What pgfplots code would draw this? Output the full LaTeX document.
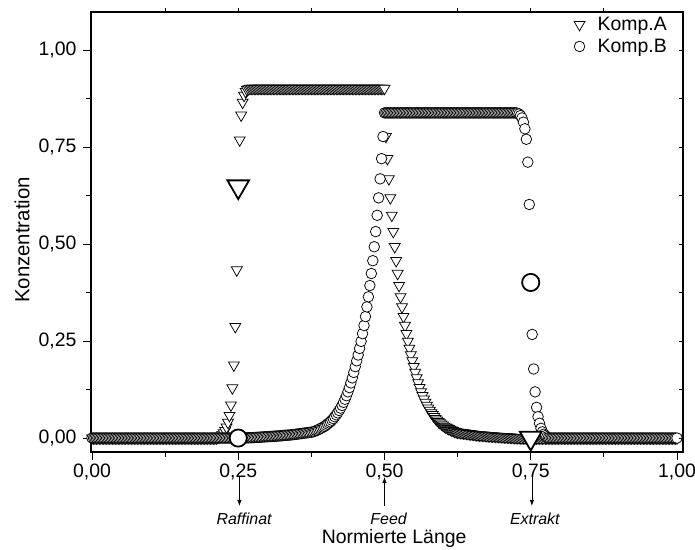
\documentclass[border=0pt]{standalone}
\usepackage{fontspec}
\setmainfont{Liberation Sans}
\usepackage{pgfplots}
\pgfplotsset{compat=1.18}
\usetikzlibrary{arrows.meta}
\begin{document}
\begin{tikzpicture}
\begin{axis}[
  name=main,
  scale only axis, width=592bp, height=440bp,
  xmin=-0.0017, xmax=1.0103, ymin=-0.036, ymax=1.098,
  clip mode=individual,
  axis line style={line width=1.1bp},
  xtick={0,0.25,0.5,0.75,1}, minor xtick={0.125,0.375,0.625,0.875},
  ytick={0,0.25,0.5,0.75,1}, minor ytick={0.125,0.375,0.625,0.875},
  xtick pos=left, ytick pos=left,
  tick align=outside,
  major tick length=8bp, minor tick length=4.5bp,
  every tick/.style={black, line width=0.9bp},
  tick label style={font=\fontsize{19.5}{22}\selectfont},
  xticklabel style={/pgf/number format/.cd, fixed, fixed zerofill, precision=2, use comma, assume math mode=true},
  yticklabel style={xshift=-3bp, /pgf/number format/.cd, fixed, fixed zerofill, precision=2, use comma, assume math mode=true},
  legend style={draw=none, fill=none, at={(1,1)}, anchor=north east, xshift=-11bp, yshift=-1bp, row sep=3bp, font=\fontsize{19.5}{23}\selectfont},
  legend cell align=left,
  legend image code/.code={\path (0bp,0bp) (24bp,0bp); \draw[#1] plot coordinates {(8bp,0bp)};},
]
% Komp.A
\addplot[only marks, mark=triangle*, mark size=6.3bp, mark options={rotate=180, fill=white, draw=black, line width=0.75bp}] coordinates {
(0,0) (0.0025,0) (0.005,0) (0.0075,0) (0.01,0) (0.0125,0) (0.015,0) (0.0175,0) (0.02,0) (0.0225,0) (0.025,0) (0.0275,0) (0.03,0) (0.0325,0) (0.035,0) (0.0375,0) (0.04,0) (0.0425,0) (0.045,0) (0.0475,0) (0.05,0) (0.0525,0) (0.055,0) (0.0575,0) (0.06,0) (0.0625,0) (0.065,0) (0.0675,0) (0.07,0) (0.0725,0) (0.075,0) (0.0775,0) (0.08,0) (0.0825,0) (0.085,0) (0.0875,0) (0.09,0) (0.0925,0) (0.095,0) (0.0975,0) (0.1,0) (0.1025,0) (0.105,0) (0.1075,0) (0.11,0) (0.1125,0) (0.115,0) (0.1175,0) (0.12,0) (0.1225,0) (0.125,0) (0.1275,0) (0.13,0) (0.1325,0) (0.135,0) (0.1375,0) (0.14,0) (0.1425,0) (0.145,0) (0.1475,0) (0.15,0) (0.1525,0) (0.155,0) (0.1575,0) (0.16,0) (0.1625,0) (0.165,0) (0.1675,0) (0.17,0) (0.1725,0) (0.175,0) (0.1775,0) (0.18,0) (0.1825,0) (0.185,0) (0.1875,0) (0.19,0) (0.1925,0) (0.195,0) (0.1975,0) (0.2,0) (0.2025,0) (0.205,0) (0.2075,0) (0.21,0)
(0.2125,0) (0.215,0.001) (0.2175,0.003) (0.22,0.005) (0.2225,0.008) (0.225,0.013) (0.2275,0.019) (0.23,0.028) (0.2325,0.040) (0.235,0.058) (0.2375,0.085) (0.24,0.129) (0.2425,0.188) (0.245,0.287) (0.2475,0.433) (0.25,0.648) (0.2525,0.768) (0.255,0.832) (0.2575,0.865) (0.26,0.883) (0.2625,0.893) (0.265,0.898) (0.2675,0.900)
(0.27,0.901) (0.2725,0.901) (0.275,0.901) (0.2775,0.901) (0.28,0.901) (0.2825,0.901) (0.285,0.901) (0.2875,0.901) (0.29,0.901) (0.2925,0.901) (0.295,0.901) (0.2975,0.901) (0.3,0.901) (0.3025,0.901) (0.305,0.901) (0.3075,0.901) (0.31,0.901) (0.3125,0.901) (0.315,0.901) (0.3175,0.901) (0.32,0.901) (0.3225,0.901) (0.325,0.901) (0.3275,0.901) (0.33,0.901) (0.3325,0.901) (0.335,0.901) (0.3375,0.901) (0.34,0.901) (0.3425,0.901) (0.345,0.901) (0.3475,0.901) (0.35,0.901) (0.3525,0.901) (0.355,0.901) (0.3575,0.901) (0.36,0.901) (0.3625,0.901) (0.365,0.901) (0.3675,0.901) (0.37,0.901) (0.3725,0.901) (0.375,0.901) (0.3775,0.901) (0.38,0.901) (0.3825,0.901) (0.385,0.901) (0.3875,0.901) (0.39,0.901) (0.3925,0.901) (0.395,0.901) (0.3975,0.901) (0.4,0.901) (0.4025,0.901) (0.405,0.901) (0.4075,0.901) (0.41,0.901) (0.4125,0.901) (0.415,0.901) (0.4175,0.901) (0.42,0.901) (0.4225,0.901) (0.425,0.901) (0.4275,0.901) (0.43,0.901) (0.4325,0.901) (0.435,0.901) (0.4375,0.901) (0.44,0.901) (0.4425,0.901) (0.445,0.901) (0.4475,0.901) (0.45,0.901) (0.4525,0.901) (0.455,0.901) (0.4575,0.901) (0.46,0.901) (0.4625,0.901) (0.465,0.901) (0.4675,0.901) (0.47,0.901) (0.4725,0.901) (0.475,0.901) (0.4775,0.901) (0.48,0.901) (0.4825,0.901) (0.485,0.901) (0.4875,0.901) (0.49,0.901) (0.4925,0.901) (0.495,0.901) (0.4975,0.901) (0.5,0.901)
(0.5025,0.777) (0.505,0.720) (0.5075,0.668) (0.51,0.619) (0.5125,0.574) (0.515,0.532) (0.5175,0.493) (0.52,0.457) (0.5225,0.424) (0.525,0.393) (0.5275,0.364) (0.53,0.338) (0.5325,0.313) (0.535,0.290) (0.5375,0.269) (0.54,0.249) (0.5425,0.231) (0.545,0.214) (0.5475,0.199) (0.55,0.184) (0.5525,0.169) (0.555,0.155) (0.5575,0.142) (0.56,0.130) (0.5625,0.119) (0.565,0.109) (0.5675,0.100) (0.57,0.092) (0.5725,0.084) (0.575,0.077) (0.5775,0.071) (0.58,0.065) (0.5825,0.060) (0.585,0.055) (0.5875,0.050) (0.59,0.046) (0.5925,0.042) (0.595,0.039) (0.5975,0.036) (0.6,0.033) (0.6025,0.030) (0.605,0.028) (0.6075,0.026) (0.61,0.024) (0.6125,0.022) (0.615,0.020) (0.6175,0.019) (0.62,0.017) (0.6225,0.016) (0.625,0.015)
(0.6275,0.0145) (0.63,0.014) (0.6325,0.0135) (0.635,0.013) (0.6375,0.0125) (0.64,0.012) (0.6425,0.0115) (0.645,0.011) (0.6475,0.0105) (0.65,0.010) (0.6525,0.0095) (0.655,0.009) (0.6575,0.0085) (0.66,0.008) (0.6625,0.0078) (0.665,0.0075) (0.6675,0.0072) (0.67,0.007) (0.6725,0.0065) (0.675,0.006) (0.6775,0.0058) (0.68,0.0055) (0.6825,0.0052) (0.685,0.005) (0.6875,0.0048) (0.69,0.0045) (0.6925,0.0042) (0.695,0.004) (0.6975,0.0038) (0.7,0.0035) (0.7025,0.0032) (0.705,0.003) (0.7075,0.0028) (0.71,0.0025) (0.7125,0.0022) (0.715,0.002) (0.7175,0.0018) (0.72,0.0015) (0.7225,0.0012) (0.725,0.001) (0.7275,0.0009) (0.73,0.0008) (0.7325,0.0006) (0.735,0.0005) (0.7375,0.0004) (0.74,0.0003) (0.7425,0.0002) (0.745,0.0001) (0.7475,0)
(0.75,0) (0.7525,0) (0.755,0) (0.7575,0) (0.76,0) (0.7625,0) (0.765,0) (0.7675,0) (0.77,0) (0.7725,0) (0.775,0) (0.7775,0) (0.78,0) (0.7825,0) (0.785,0) (0.7875,0) (0.79,0) (0.7925,0) (0.795,0) (0.7975,0) (0.8,0) (0.8025,0) (0.805,0) (0.8075,0) (0.81,0) (0.8125,0) (0.815,0) (0.8175,0) (0.82,0) (0.8225,0) (0.825,0) (0.8275,0) (0.83,0) (0.8325,0) (0.835,0) (0.8375,0) (0.84,0) (0.8425,0) (0.845,0) (0.8475,0) (0.85,0) (0.8525,0) (0.855,0) (0.8575,0) (0.86,0) (0.8625,0) (0.865,0) (0.8675,0) (0.87,0) (0.8725,0) (0.875,0) (0.8775,0) (0.88,0) (0.8825,0) (0.885,0) (0.8875,0) (0.89,0) (0.8925,0) (0.895,0) (0.8975,0) (0.9,0) (0.9025,0) (0.905,0) (0.9075,0) (0.91,0) (0.9125,0) (0.915,0) (0.9175,0) (0.92,0) (0.9225,0) (0.925,0) (0.9275,0) (0.93,0) (0.9325,0) (0.935,0) (0.9375,0) (0.94,0) (0.9425,0) (0.945,0) (0.9475,0) (0.95,0) (0.9525,0) (0.955,0) (0.9575,0) (0.96,0) (0.9625,0) (0.965,0) (0.9675,0) (0.97,0) (0.9725,0) (0.975,0) (0.9775,0) (0.98,0) (0.9825,0) (0.985,0) (0.9875,0) (0.99,0) (0.9925,0) (0.995,0) (0.9975,0) (1,0)
};
\addlegendentry{Komp.A}
% Komp.B
\addplot[only marks, mark=*, mark size=5.3bp, mark options={fill=white, draw=black, line width=0.75bp}] coordinates {
(0,0) (0.0025,0) (0.005,0) (0.0075,0) (0.01,0) (0.0125,0) (0.015,0) (0.0175,0) (0.02,0) (0.0225,0) (0.025,0) (0.0275,0) (0.03,0) (0.0325,0) (0.035,0) (0.0375,0) (0.04,0) (0.0425,0) (0.045,0) (0.0475,0) (0.05,0) (0.0525,0) (0.055,0) (0.0575,0) (0.06,0) (0.0625,0) (0.065,0) (0.0675,0) (0.07,0) (0.0725,0) (0.075,0) (0.0775,0) (0.08,0) (0.0825,0) (0.085,0) (0.0875,0) (0.09,0) (0.0925,0) (0.095,0) (0.0975,0) (0.1,0) (0.1025,0) (0.105,0) (0.1075,0) (0.11,0) (0.1125,0) (0.115,0) (0.1175,0) (0.12,0) (0.1225,0) (0.125,0) (0.1275,0) (0.13,0) (0.1325,0) (0.135,0) (0.1375,0) (0.14,0) (0.1425,0) (0.145,0) (0.1475,0) (0.15,0) (0.1525,0) (0.155,0) (0.1575,0) (0.16,0) (0.1625,0) (0.165,0) (0.1675,0) (0.17,0) (0.1725,0) (0.175,0) (0.1775,0) (0.18,0) (0.1825,0) (0.185,0) (0.1875,0) (0.19,0) (0.1925,0) (0.195,0) (0.1975,0) (0.2,0) (0.2025,0) (0.205,0) (0.2075,0) (0.21,0) (0.2125,0) (0.215,0) (0.2175,0) (0.22,0) (0.2225,0) (0.225,0) (0.2275,0) (0.23,0) (0.2325,0) (0.235,0) (0.2375,0) (0.24,0) (0.2425,0) (0.245,0) (0.2475,0) (0.25,0)
(0.2525,0) (0.255,0.0001) (0.2575,0.0002) (0.26,0.0003) (0.2625,0.0004) (0.265,0.0005) (0.2675,0.0006) (0.27,0.0008) (0.2725,0.0009) (0.275,0.001) (0.2775,0.0012) (0.28,0.0015) (0.2825,0.0018) (0.285,0.002) (0.2875,0.0022) (0.29,0.0025) (0.2925,0.0028) (0.295,0.003) (0.2975,0.0032) (0.3,0.0035) (0.3025,0.0038) (0.305,0.004) (0.3075,0.0042) (0.31,0.0045) (0.3125,0.0048) (0.315,0.005) (0.3175,0.0052) (0.32,0.0055) (0.3225,0.0058) (0.325,0.006) (0.3275,0.0065) (0.33,0.007) (0.3325,0.0072) (0.335,0.0075) (0.3375,0.0078) (0.34,0.008) (0.3425,0.0085) (0.345,0.009) (0.3475,0.0095) (0.35,0.010) (0.3525,0.0105) (0.355,0.011) (0.3575,0.0115) (0.36,0.012) (0.3625,0.0125) (0.365,0.013) (0.3675,0.0135) (0.37,0.014) (0.3725,0.0145)
(0.375,0.015) (0.3775,0.016) (0.38,0.017) (0.3825,0.019) (0.385,0.020) (0.3875,0.022) (0.39,0.024) (0.3925,0.026) (0.395,0.028) (0.3975,0.030) (0.4,0.033) (0.4025,0.036) (0.405,0.039) (0.4075,0.042) (0.41,0.046) (0.4125,0.050) (0.415,0.055) (0.4175,0.060) (0.42,0.065) (0.4225,0.071) (0.425,0.077) (0.4275,0.084) (0.43,0.092) (0.4325,0.100) (0.435,0.109) (0.4375,0.119) (0.44,0.130) (0.4425,0.142) (0.445,0.155) (0.4475,0.169) (0.45,0.184) (0.4525,0.199) (0.455,0.214) (0.4575,0.231) (0.46,0.249) (0.4625,0.269) (0.465,0.290) (0.4675,0.313) (0.47,0.338) (0.4725,0.364) (0.475,0.393) (0.4775,0.424) (0.48,0.457) (0.4825,0.493) (0.485,0.532) (0.4875,0.574) (0.49,0.619) (0.4925,0.668) (0.495,0.720) (0.4975,0.777)
(0.5,0.838) (0.5025,0.838) (0.505,0.838) (0.5075,0.838) (0.51,0.838) (0.5125,0.838) (0.515,0.838) (0.5175,0.838) (0.52,0.838) (0.5225,0.838) (0.525,0.838) (0.5275,0.838) (0.53,0.838) (0.5325,0.838) (0.535,0.838) (0.5375,0.838) (0.54,0.838) (0.5425,0.838) (0.545,0.838) (0.5475,0.838) (0.55,0.838) (0.5525,0.838) (0.555,0.838) (0.5575,0.838) (0.56,0.838) (0.5625,0.838) (0.565,0.838) (0.5675,0.838) (0.57,0.838) (0.5725,0.838) (0.575,0.838) (0.5775,0.838) (0.58,0.838) (0.5825,0.838) (0.585,0.838) (0.5875,0.838) (0.59,0.838) (0.5925,0.838) (0.595,0.838) (0.5975,0.838) (0.6,0.838) (0.6025,0.838) (0.605,0.838) (0.6075,0.838) (0.61,0.838) (0.6125,0.838) (0.615,0.838) (0.6175,0.838) (0.62,0.838) (0.6225,0.838) (0.625,0.838) (0.6275,0.838) (0.63,0.838) (0.6325,0.838) (0.635,0.838) (0.6375,0.838) (0.64,0.838) (0.6425,0.838) (0.645,0.838) (0.6475,0.838) (0.65,0.838) (0.6525,0.838) (0.655,0.838) (0.6575,0.838) (0.66,0.838) (0.6625,0.838) (0.665,0.838) (0.6675,0.838) (0.67,0.838) (0.6725,0.838) (0.675,0.838) (0.6775,0.838) (0.68,0.838) (0.6825,0.838) (0.685,0.838) (0.6875,0.838) (0.69,0.838) (0.6925,0.838) (0.695,0.838) (0.6975,0.838) (0.7,0.838) (0.7025,0.838) (0.705,0.838) (0.7075,0.838) (0.71,0.838) (0.7125,0.838) (0.715,0.838) (0.7175,0.838) (0.72,0.838) (0.7225,0.838) (0.725,0.838)
(0.7275,0.837) (0.73,0.835) (0.7325,0.831) (0.735,0.825) (0.7375,0.814) (0.74,0.797) (0.7425,0.770) (0.745,0.711) (0.7475,0.602) (0.75,0.401) (0.7525,0.267) (0.755,0.178) (0.7575,0.119) (0.76,0.079) (0.7625,0.055) (0.765,0.038) (0.7675,0.025) (0.77,0.016) (0.7725,0.010) (0.775,0.006) (0.7775,0.003) (0.78,0.001)
(0.7825,0) (0.785,0) (0.7875,0) (0.79,0) (0.7925,0) (0.795,0) (0.7975,0) (0.8,0) (0.8025,0) (0.805,0) (0.8075,0) (0.81,0) (0.8125,0) (0.815,0) (0.8175,0) (0.82,0) (0.8225,0) (0.825,0) (0.8275,0) (0.83,0) (0.8325,0) (0.835,0) (0.8375,0) (0.84,0) (0.8425,0) (0.845,0) (0.8475,0) (0.85,0) (0.8525,0) (0.855,0) (0.8575,0) (0.86,0) (0.8625,0) (0.865,0) (0.8675,0) (0.87,0) (0.8725,0) (0.875,0) (0.8775,0) (0.88,0) (0.8825,0) (0.885,0) (0.8875,0) (0.89,0) (0.8925,0) (0.895,0) (0.8975,0) (0.9,0) (0.9025,0) (0.905,0) (0.9075,0) (0.91,0) (0.9125,0) (0.915,0) (0.9175,0) (0.92,0) (0.9225,0) (0.925,0) (0.9275,0) (0.93,0) (0.9325,0) (0.935,0) (0.9375,0) (0.94,0) (0.9425,0) (0.945,0) (0.9475,0) (0.95,0) (0.9525,0) (0.955,0) (0.9575,0) (0.96,0) (0.9625,0) (0.965,0) (0.9675,0) (0.97,0) (0.9725,0) (0.975,0) (0.9775,0) (0.98,0) (0.9825,0) (0.985,0) (0.9875,0) (0.99,0) (0.9925,0) (0.995,0) (0.9975,0) (1,0)
};
\addlegendentry{Komp.B}
% highlighted points at the ports
\addplot[forget plot, only marks, mark=triangle*, mark size=12.5bp, mark options={rotate=180, fill=white, draw=black, line width=1.8bp}] coordinates {(0.25,0.648) (0.75,0)};
\addplot[forget plot, only marks, mark=*, mark size=8.6bp, mark options={fill=white, draw=black, line width=1.8bp}] coordinates {(0.25,0) (0.75,0.401)};
% port annotations
\draw[line width=0.8bp, -{Latex[length=6bp,width=4.5bp]}] (axis cs:0.252,-0.1005) -- (axis cs:0.252,-0.175);
\draw[line width=0.8bp, -{Latex[length=6bp,width=4.5bp]}] (axis cs:0.5,-0.175) -- (axis cs:0.5,-0.1005);
\draw[line width=0.8bp, -{Latex[length=6bp,width=4.5bp]}] (axis cs:0.752,-0.1005) -- (axis cs:0.752,-0.175);
\node[font=\fontsize{16}{18}\selectfont\itshape, anchor=center] at (axis cs:0.26,-0.207) {Raffinat};
\node[font=\fontsize{16}{18}\selectfont\itshape, anchor=center] at (axis cs:0.507,-0.207) {Feed};
\node[font=\fontsize{16}{18}\selectfont\itshape, anchor=center] at (axis cs:0.757,-0.207) {Extrakt};
\node[font=\fontsize{19.5}{22}\selectfont, anchor=center] at (rel axis cs:0.512,-0.196) {Normierte Länge};
\node[font=\fontsize{20.5}{22}\selectfont, anchor=center, rotate=90] at (rel axis cs:-0.1166,0.482) {Konzentration};
\end{axis}
% top ticks
\begin{axis}[
  scale only axis, width=592bp, height=440bp,
  at={(main.south west)}, anchor=south west,
  xmin=-0.0017, xmax=1.0103, ymin=-0.036, ymax=1.098,
  axis line style={draw=none},
  xtick={0.125,0.25,0.375,0.5,0.625,0.75,0.875}, xticklabels={}, xtick pos=right,
  ytick=\empty,
  tick align=outside, major tick length=4bp,
  every tick/.style={black, line width=0.9bp},
]
\end{axis}
% right ticks
\begin{axis}[
  scale only axis, width=592bp, height=440bp,
  at={(main.south west)}, anchor=south west,
  xmin=-0.0017, xmax=1.0103, ymin=-0.036, ymax=1.098,
  axis line style={draw=none},
  ytick={0,0.125,0.25,0.375,0.5,0.625,0.75,0.875,1}, yticklabels={}, ytick pos=right,
  xtick=\empty,
  tick align=inside, major tick length=4bp,
  every tick/.style={black, line width=0.9bp},
]
\end{axis}
\pgfresetboundingbox
\path[use as bounding box] ([xshift=-91bp,yshift=-98bp]main.south west) rectangle ([xshift=12bp,yshift=12bp]main.north east);
\end{tikzpicture}
\end{document}
